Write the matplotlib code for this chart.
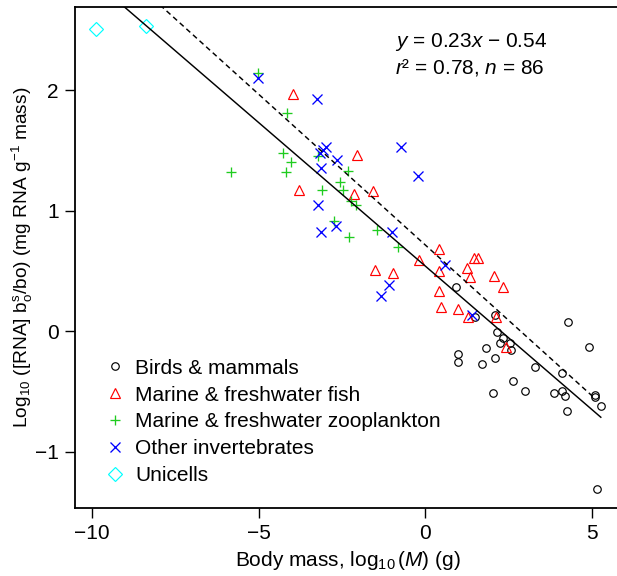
import matplotlib
matplotlib.use('Agg')
import matplotlib.pyplot as plt
from matplotlib.lines import Line2D
import numpy as np

plt.rcParams['font.family'] = ['Liberation Sans', 'DejaVu Sans']
plt.rcParams['mathtext.fontset'] = 'custom'
plt.rcParams['mathtext.rm'] = 'Liberation Sans'
plt.rcParams['mathtext.it'] = 'Liberation Sans:italic'
plt.rcParams['mathtext.bf'] = 'Liberation Sans:bold'
plt.rcParams['axes.unicode_minus'] = True

# ---- data ----
birds_x = [0.91, 1.48, 2.09, 2.16, 2.34, 2.24, 2.54, 2.57, 1.81, 2.10, 0.97, 0.97, 1.69, 3.29,
           4.29, 4.92, 4.11, 2.64, 2.02, 2.99, 3.87, 4.11, 4.19, 4.26, 5.10, 5.10, 5.27, 5.17]
birds_y = [0.37, 0.12, 0.13, -0.01, -0.06, -0.10, -0.10, -0.16, -0.14, -0.22, -0.19, -0.26, -0.27, -0.30,
           0.08, -0.13, -0.35, -0.41, -0.51, -0.50, -0.51, -0.50, -0.54, -0.66, -0.53, -0.55, -0.62, -1.31]

fish_x = [-3.97, -2.04, -3.78, -2.14, -1.58, -0.19, -1.52, -0.97, 0.42, 0.42, 1.45, 1.58, 1.26, 1.33,
          2.05, 2.33, 0.42, 0.47, 0.99, 1.27, 2.13, 2.42]
fish_y = [1.97, 1.46, 1.17, 1.14, 1.16, 0.59, 0.51, 0.48, 0.68, 0.50, 0.61, 0.61, 0.52, 0.45,
          0.46, 0.37, 0.33, 0.20, 0.18, 0.12, 0.12, -0.13]

zoo_x = [-5.02, -4.15, -5.82, -4.26, -4.04, -4.18, -3.22, -2.32, -2.57, -2.47, -3.09, -2.22, -2.08,
         -2.73, -2.28, -1.46, -0.81]
zoo_y = [2.14, 1.81, 1.32, 1.48, 1.40, 1.32, 1.45, 1.33, 1.24, 1.17, 1.17, 1.08, 1.05,
         0.91, 0.78, 0.84, 0.70]

inv_x = [-5.02, -3.24, -2.97, -3.06, -3.16, -2.65, -3.13, -0.74, -0.23, -3.23, -2.67, -3.12, -1.01,
         -1.10, -1.34, 0.59, 1.39]
inv_y = [2.10, 1.93, 1.53, 1.50, 1.48, 1.42, 1.35, 1.53, 1.29, 1.05, 0.87, 0.82, 0.82,
         0.38, 0.29, 0.55, 0.13]

uni_x = [-9.90, -8.38]
uni_y = [2.51, 2.53]

fit_slope, fit_intercept = -0.238, 0.54
fit_range = [-9.90, 5.27]
ref_slope, ref_intercept = -0.25, 0.715
ref_range = [-9.90, 5.10]

labels = ["Birds & mammals", "Marine & freshwater fish", "Marine & freshwater zooplankton",
          "Other invertebrates", "Unicells"]
xticks = [-10, -5, 0, 5]
yticks = [-1, 0, 1, 2]

# ---- figure ----
W, H = 617, 576
fig = plt.figure(figsize=(W / 100, H / 100), dpi=100)
ax = fig.add_axes([75.3 / W, (H - 507.7) / H, (620.8 - 75.3) / W, 500.7 / H])
ax.set_xlim(-10.51, 5.87)
ax.set_ylim(-1.465, 2.69)

FS = 15
green = '#1FCC1F'
common = dict(linestyle='none', markerfacecolor='none', markeredgewidth=0.85)

ax.plot(birds_x, birds_y, marker='o', markersize=5.4, markeredgecolor='black', **common)
ax.plot(fish_x, fish_y, marker='^', markersize=7.6, markeredgecolor='#FF0000', **common)
ax.plot(zoo_x, zoo_y, marker='+', markersize=7.6, markeredgecolor=green, linestyle='none', markeredgewidth=0.95)
ax.plot(inv_x, inv_y, marker='x', markersize=6.5, markeredgecolor='#0000FF', linestyle='none', markeredgewidth=0.95)
ax.plot(uni_x, uni_y, marker='D', markersize=6.8, markeredgecolor='#00FFFF', **common)

fx = np.array(fit_range)
ax.plot(fx, fit_intercept + fit_slope * fx, color='black', linewidth=1.05)
rx = np.array(ref_range)
ax.plot(rx, ref_intercept + ref_slope * rx, color='black', linewidth=1.05, linestyle=(0, (3.6, 2.5)))

ax.set_xticks(xticks)
ax.set_yticks(yticks)
ax.tick_params(direction='out', length=7, width=1.0, labelsize=FS, pad=5)
for s in ax.spines.values():
    s.set_linewidth(1.3)

ax.set_xlabel(r"Body mass, log$_{10}\,$($M$) (g)", fontsize=FS, labelpad=4)
ylab = ax.set_ylabel(r"Log$_{10}$ ([RNA] b$_{\rm o}^{\rm s}$/bo) (mg RNA g$^{-1}$ mass)", fontsize=13.8)
ax.yaxis.set_label_coords(-22 / (620.8 - 75.3) - (75.3 - 22) / (620.8 - 75.3) + 22 / (620.8 - 75.3), 0.5)
ylab.set_va('center')

fig.text(395 / W, 1 - 42 / H, r"$y$ = 0.23$x$ $-$ 0.54", fontsize=FS, ha='left', va='center')
fig.text(395 / W, 1 - 67 / H, r"$r$² = 0.78, $n$ = 86", fontsize=FS, ha='left', va='center')

handles = [
    Line2D([], [], marker='o', markersize=5.4, markeredgecolor='black', **common),
    Line2D([], [], marker='^', markersize=7.6, markeredgecolor='#FF0000', **common),
    Line2D([], [], marker='+', markersize=7.6, markeredgecolor=green, linestyle='none', markeredgewidth=0.95),
    Line2D([], [], marker='x', markersize=6.5, markeredgecolor='#0000FF', linestyle='none', markeredgewidth=0.95),
    Line2D([], [], marker='D', markersize=6.8, markeredgecolor='#00FFFF', **common),
]
leg = ax.legend(handles, labels, loc='lower left', frameon=False, fontsize=FS,
                handlelength=1.0, handletextpad=0.46, labelspacing=0.375, borderpad=0, borderaxespad=0)
leg.set_bbox_to_anchor((104.6 / W, (576 - 485) / H), transform=fig.transFigure)

fig.savefig('out.png', dpi=100)
